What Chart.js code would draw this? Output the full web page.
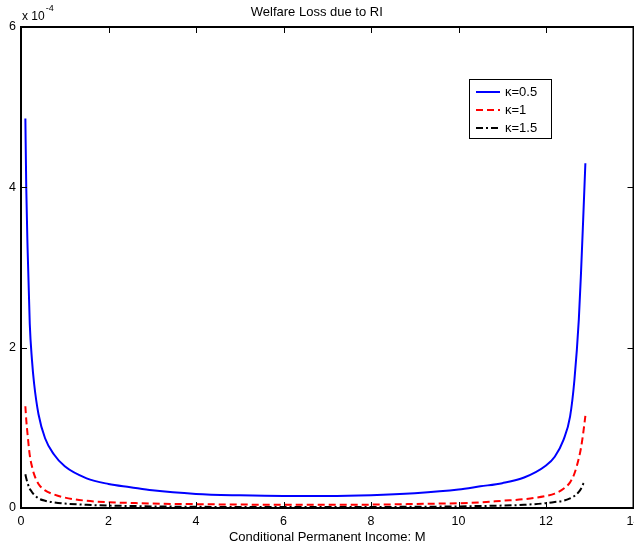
<!DOCTYPE html>
<html>
<head>
<meta charset="utf-8">
<script src="https://cdn.jsdelivr.net/npm/chart.js@4/dist/chart.umd.min.js"></script>
<style>
  html, body { margin: 0; padding: 0; background: #fff; }
  #wrap { width: 634px; height: 548px; }
</style>
</head>
<body>
<div id="wrap"><canvas id="c" width="634" height="548"></canvas></div>
<script>
// Conditional permanent income M (shared sample grid)
const incomeM = [0.1, 0.12, 0.15, 0.2, 0.25, 0.3, 0.4, 0.55, 0.75, 1.0, 1.5, 2, 2.5, 3, 4, 5, 6, 7, 8, 9, 10, 10.5, 11, 11.5, 12, 12.2, 12.4, 12.55, 12.65, 12.75, 12.8, 12.85, 12.9];

// Welfare loss, in units of 1e-4
const lossK05 = [4.86, 4.0, 3.25, 2.3, 1.85, 1.55, 1.17, 0.87, 0.67, 0.52, 0.37, 0.3, 0.26, 0.22, 0.175, 0.158, 0.15, 0.15, 0.16, 0.185, 0.23, 0.27, 0.31, 0.38, 0.53, 0.64, 0.85, 1.14, 1.6, 2.35, 2.93, 3.6, 4.3];
const lossK1 = [1.27, 1.1, 0.92, 0.66, 0.52, 0.42, 0.3, 0.22, 0.17, 0.13, 0.09, 0.072, 0.063, 0.055, 0.048, 0.043, 0.04, 0.04, 0.042, 0.05, 0.06, 0.07, 0.09, 0.11, 0.15, 0.18, 0.24, 0.32, 0.43, 0.62, 0.75, 0.93, 1.15];
const lossK15 = [0.42, 0.37, 0.31, 0.24, 0.2, 0.165, 0.12, 0.09, 0.07, 0.055, 0.04, 0.03, 0.025, 0.02, 0.015, 0.013, 0.012, 0.012, 0.013, 0.015, 0.02, 0.025, 0.03, 0.04, 0.06, 0.075, 0.09, 0.12, 0.15, 0.2, 0.24, 0.3, 0.33];

const seriesLabels = ['\u03BA=0.5', '\u03BA=1', '\u03BA=1.5'];
const xTicks = [0, 2, 4, 6, 8, 10, 12, 14];
const yTicks = [0, 2, 4, 6];

const FONT = 'Liberation Sans, Arial, Helvetica, sans-serif';

function pts(vals) { return incomeM.map((m, i) => ({ x: m, y: vals[i] })); }

// MATLAB-style box with inward ticks, exponent label and legend
const matlabFrame = {
  id: 'matlabFrame',
  afterDraw(chart) {
    const { ctx, chartArea: a, scales: { x, y } } = chart;
    ctx.save();
    ctx.strokeStyle = '#000';
    ctx.lineWidth = 1;
    ctx.beginPath();
    xTicks.forEach(v => {
      const px = Math.round(x.getPixelForValue(v)) + 0.5;
      ctx.moveTo(px, a.bottom); ctx.lineTo(px, a.bottom - 6);
      ctx.moveTo(px, a.top); ctx.lineTo(px, a.top + 6);
    });
    yTicks.forEach(v => {
      const py = Math.round(y.getPixelForValue(v)) + 0.5;
      ctx.moveTo(a.left, py); ctx.lineTo(a.left + 6, py);
      ctx.moveTo(a.right, py); ctx.lineTo(a.right - 6, py);
    });
    ctx.stroke();
    ctx.lineWidth = 2;
    ctx.strokeRect(a.left, a.top, a.right - a.left, a.bottom - a.top);

    // exponent of the y axis
    ctx.fillStyle = '#000';
    ctx.textBaseline = 'alphabetic';
    ctx.textAlign = 'left';
    ctx.font = '12px ' + FONT;
    ctx.fillText('x 10', a.left + 1, 20);
    const w = ctx.measureText('x 10').width;
    ctx.font = '9px ' + FONT;
    ctx.fillText('-4', a.left + 2 + w, 11);

    // legend box
    const lx = 469, ly = 79, lw = 82, lh = 59;
    ctx.fillStyle = '#fff';
    ctx.fillRect(lx, ly, lw, lh);
    ctx.lineWidth = 1;
    ctx.strokeStyle = '#000';
    ctx.strokeRect(lx + 0.5, ly + 0.5, lw, lh);
    const rows = [92, 110, 128];
    chart.data.datasets.forEach((ds, i) => {
      ctx.save();
      ctx.strokeStyle = ds.borderColor;
      ctx.lineWidth = ds.borderWidth;
      ctx.setLineDash(ds.borderDash || []);
      ctx.beginPath();
      ctx.moveTo(476, rows[i]); ctx.lineTo(500, rows[i]);
      ctx.stroke();
      ctx.restore();
      ctx.fillStyle = '#000';
      ctx.font = '13px ' + FONT;
      ctx.textBaseline = 'middle';
      ctx.fillText(ds.label, 505, rows[i] + 0.5);
    });
    ctx.restore();
  }
};

new Chart(document.getElementById('c'), {
  type: 'line',
  data: {
    datasets: [
      { label: seriesLabels[0], data: pts(lossK05), borderColor: '#0000ff', borderWidth: 2, pointRadius: 0, fill: false, cubicInterpolationMode: 'monotone' },
      { label: seriesLabels[1], data: pts(lossK1), borderColor: '#ff0000', borderWidth: 2, borderDash: [7, 4], pointRadius: 0, fill: false, cubicInterpolationMode: 'monotone' },
      { label: seriesLabels[2], data: pts(lossK15), borderColor: '#000000', borderWidth: 2, borderDash: [7, 3, 2, 3], pointRadius: 0, fill: false, cubicInterpolationMode: 'monotone' }
    ]
  },
  options: {
    responsive: false,
    animation: false,
    devicePixelRatio: 1,
    layout: { padding: { left: 0, right: 0.5, top: 0, bottom: 0 } },
    plugins: {
      legend: { display: false },
      tooltip: { enabled: false },
      title: {
        display: true,
        text: 'Welfare Loss due to RI',
        color: '#000',
        font: { family: FONT, size: 13, weight: 'normal' },
        padding: { top: 5, bottom: 6.4 }
      }
    },
    scales: {
      x: {
        type: 'linear',
        min: 0, max: 14,
        afterBuildTicks(s) { s.ticks = xTicks.map(v => ({ value: v })); },
        afterFit(s) { s.height = 40; s.paddingLeft = 0; s.paddingRight = 0; },
        grid: { display: false, drawTicks: false },
        border: { display: false },
        ticks: { color: '#000', font: { family: FONT, size: 12.5 }, padding: 6, maxRotation: 0, autoSkip: false },
        title: {
          display: true,
          text: 'Conditional Permanent Income: M',
          color: '#000',
          font: { family: FONT, size: 13 },
          padding: { top: 0, bottom: 3 }
        }
      },
      y: {
        type: 'linear',
        min: 0, max: 6,
        afterBuildTicks(s) { s.ticks = yTicks.map(v => ({ value: v })); },
        afterFit(s) { s.width = 21; s.paddingTop = 0; s.paddingBottom = 0; },
        grid: { display: false, drawTicks: false },
        border: { display: false },
        ticks: { color: '#000', font: { family: FONT, size: 12.5 }, padding: 5 }
      }
    }
  },
  plugins: [matlabFrame]
});
</script>
</body>
</html>
